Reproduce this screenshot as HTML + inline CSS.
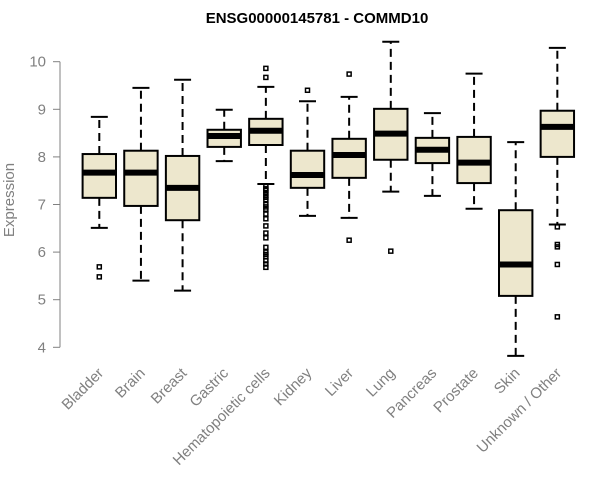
<!DOCTYPE html>
<html><head><meta charset="utf-8"><style>body{margin:0;background:#fff}svg{display:block}</style></head>
<body>
<svg id="chart" width="600" height="500" xmlns="http://www.w3.org/2000/svg" font-family="Liberation Sans, Arial, sans-serif"></svg>
<script>
const categories = ["Bladder","Brain","Breast","Gastric","Hematopoietic cells","Kidney","Liver","Lung","Pancreas","Prostate","Skin","Unknown / Other"];
const whiskerLow = [6.51,5.40,5.19,7.91,7.43,6.76,6.72,7.27,7.18,6.91,3.82,6.58];
const q1 = [7.14,6.97,6.67,8.21,8.25,7.35,7.56,7.94,7.87,7.45,5.08,8.00];
const median = [7.67,7.67,7.35,8.44,8.55,7.62,8.04,8.49,8.15,7.88,5.74,8.63];
const q3 = [8.06,8.13,8.02,8.57,8.80,8.13,8.38,9.01,8.40,8.42,6.88,8.97];
const whiskerHigh = [8.84,9.45,9.62,8.99,9.47,9.17,9.26,10.42,8.92,9.75,8.31,10.29];
const outliers = [[5.69,5.48],[],[],[],[9.86,9.67,7.38,7.33,7.30,7.25,7.20,7.15,7.10,7.00,6.95,6.90,6.80,6.70,6.55,6.40,6.30,6.10,6.00,5.95,5.90,5.82,5.75,5.68],[9.40],[9.74,6.25],[6.02],[],[],[],[6.53,6.16,6.11,5.74,4.64]];
const yTicks = [4,5,6,7,8,9,10];

const svg = document.getElementById('chart');
const NS = 'http://www.w3.org/2000/svg';
const y = v => 61.7 + (10 - v) * 47.6;
const x = i => 99.3 + i * 41.64;
function mk(tag, attrs, parent){const e=document.createElementNS(NS,tag);for(const k in attrs)e.setAttribute(k,attrs[k]);(parent||svg).appendChild(e);return e;}

const title = mk('text',{x:317,y:23,'text-anchor':'middle','font-size':15,'font-weight':'bold',fill:'#000'});
title.textContent = 'ENSG00000145781 - COMMD10';



const yt = mk('text',{x:0,y:0,transform:'translate(14,200) rotate(-90)','text-anchor':'middle','font-size':15,fill:'#808080'});
yt.textContent='Expression';



const ax = mk('g',{});


mk('line',{x1:60,x2:60,y1:y(10),y2:y(4),stroke:'#808080','stroke-width':1},ax);
yTicks.forEach(t=>{
  mk('line',{x1:53,x2:60,y1:y(t),y2:y(t),stroke:'#808080'},ax);
  const l=mk('text',{x:46,y:y(t)+5,'text-anchor':'end','font-size':15,fill:'#808080'},ax);
  l.textContent=t;
  
  
});

categories.forEach((c,i)=>{
  const g=mk('g',{});
  
  
  const cx=x(i), hw=16.7, cap=8.5;
  mk('line',{x1:cx,x2:cx,y1:y(q3[i]),y2:y(whiskerHigh[i]),stroke:'#000','stroke-width':2,'stroke-dasharray':'8,5'},g);
  mk('line',{x1:cx,x2:cx,y1:y(q1[i]),y2:y(whiskerLow[i]),stroke:'#000','stroke-width':2,'stroke-dasharray':'8,5'},g);
  mk('line',{x1:cx-cap,x2:cx+cap,y1:y(whiskerHigh[i]),y2:y(whiskerHigh[i]),stroke:'#000','stroke-width':2},g);
  mk('line',{x1:cx-cap,x2:cx+cap,y1:y(whiskerLow[i]),y2:y(whiskerLow[i]),stroke:'#000','stroke-width':2},g);
  mk('rect',{x:cx-hw,y:y(q3[i]),width:2*hw,height:y(q1[i])-y(q3[i]),fill:'#ede7cd',stroke:'#000','stroke-width':2},g);
  mk('line',{x1:cx-hw,x2:cx+hw,y1:y(median[i]),y2:y(median[i]),stroke:'#000','stroke-width':6},g);
  outliers[i].forEach(o=>{
    const p=mk('rect',{x:cx-2,y:y(o)-2,width:4,height:4,fill:'none',stroke:'#000','stroke-width':1.5},g);
    
    
  });
  const lb=mk('text',{x:0,y:0,transform:`translate(${cx+5},${374}) rotate(-45)`,'text-anchor':'end','font-size':15,fill:'#808080'});
  lb.textContent=c;
  
  
});
</script>
</body></html>
